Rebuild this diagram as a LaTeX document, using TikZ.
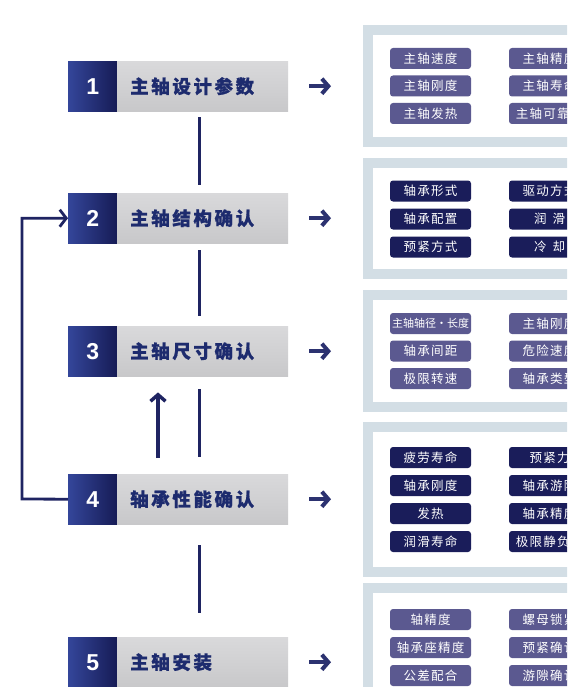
\documentclass[tikz,border=0pt]{standalone}
\usepackage{fontspec}
\setmainfont{Liberation Sans}
\newfontfamily\cjkstep{Noto Sans CJK SC}[LetterSpace=14,BoldFeatures={FakeBold=0.8}]
\newfontfamily\cjkpill{Noto Sans CJK SC}[LetterSpace=10]
\newfontfamily\cjksmall{Noto Sans CJK SC}
\usetikzlibrary{arrows.meta}
\definecolor{numL}{HTML}{34469A}
\definecolor{numR}{HTML}{161B55}
\definecolor{grayT}{HTML}{D9D9DB}
\definecolor{grayB}{HTML}{C8C8CA}
\definecolor{stepTxt}{HTML}{1D2B6E}
\definecolor{connC}{HTML}{1F2462}
\definecolor{panelC}{HTML}{D3DEE5}
\definecolor{pillPC}{HTML}{5B5990}
\definecolor{pillNC}{HTML}{1A1D5A}
\definecolor{arrC}{HTML}{2C3270}
\begin{document}
\begin{tikzpicture}[x=1pt,y=-1pt,
  numbox/.style={anchor=north west,minimum width=49pt,minimum height=50pt,inner sep=0pt,
    left color=numL,right color=numR,text=white,font=\fontsize{23}{23}\selectfont\bfseries},
  stepbox/.style={anchor=north west,minimum height=50pt,text width=145pt,inner xsep=13pt,
    inner ysep=0pt,align=left,top color=grayT,bottom color=grayB,text=stepTxt,
    font=\fontsize{18.5}{18.5}\selectfont\cjkstep\bfseries},
  panelbox/.style={fill=white,draw=panelC,line width=10pt,inner sep=0pt},
  pill/.style={minimum width=81pt,minimum height=21pt,inner sep=0pt,rounded corners=3pt,
    text=white,font=\fontsize{12.5}{12.5}\selectfont\cjkpill},
  pillP/.style={pill,fill=pillPC},
  pillN/.style={pill,fill=pillNC},
  conn/.style={draw=connC,line width=3pt},
  rarrow/.style={draw=arrC,line width=4pt,-{Straight Barb[length=6.5pt,width=15pt]}},
  uparrow/.style={draw=connC,line width=3.5pt,-{Straight Barb[length=6.5pt,width=15pt]}},
]
\useasboundingbox (0,0) rectangle (567,687);
\clip (0,0) rectangle (567,687);
\fill[white] (0,0) rectangle (567,687);

% panels
\node[panelbox,minimum width=227pt,minimum height=112pt] (p1) at (481.5,86) {};
\node[panelbox,minimum width=227pt,minimum height=111pt] (p2) at (481.5,218.5) {};
\node[panelbox,minimum width=227pt,minimum height=112pt] (p3) at (481.5,351) {};
\node[panelbox,minimum width=227pt,minimum height=145pt] (p4) at (481.5,499.5) {};
\node[panelbox,minimum width=227pt,minimum height=200pt] (p5) at (481.5,688) {};

% step boxes
\node[numbox] (n1) at (68,61) {1};
\node[stepbox] (g1) at (117,61) {主轴设计参数};
\node[numbox] (n2) at (68,193) {2};
\node[stepbox] (g2) at (117,193) {主轴结构确认};
\node[numbox] (n3) at (68,326) {3};
\node[stepbox] (g3) at (117,326) {主轴尺寸确认};
\node[numbox] (n4) at (68,474) {4};
\node[stepbox] (g4) at (117,474) {轴承性能确认};
\node[numbox] (n5) at (68,637) {5};
\node[stepbox] (g5) at (117,637) {主轴安装};

% vertical connectors
\draw[conn,shorten <=6pt,shorten >=8pt] ([xshift=-3pt]g1.south) -- ([xshift=-3pt]g2.north);
\draw[conn,shorten <=7pt,shorten >=10pt] ([xshift=-3pt]g2.south) -- ([xshift=-3pt]g3.north);
\draw[conn,shorten <=13pt,shorten >=17pt] ([xshift=-3pt]g3.south) -- ([xshift=-3pt]g4.north);
\draw[conn,shorten <=21pt,shorten >=24pt] ([xshift=-3pt]g4.south) -- ([xshift=-3pt]g5.north);

% up arrow between 4 and 3
\draw[uparrow,shorten <=16pt,shorten >=16pt] ([xshift=41pt]g4.north west) -- ([xshift=41pt]g3.south west);

% feedback loop 4 -> 2
\coordinate (fb) at (22,499);
\draw[draw=connC,line width=2.8pt,-{Straight Barb[length=6.5pt,width=17pt]}]
  (n4.west) -- (fb) |- (n2.west);

% right arrows
\draw[rarrow,shorten <=21pt,shorten >=32pt] (g1.east) -- (g1.east -| p1.west);
\draw[rarrow,shorten <=21pt,shorten >=32pt] (g2.east) -- (g2.east -| p2.west);
\draw[rarrow,shorten <=21pt,shorten >=32pt] (g3.east) -- (g3.east -| p3.west);
\draw[rarrow,shorten <=21pt,shorten >=32pt] (g4.east) -- (g4.east -| p4.west);
\draw[rarrow,shorten <=21pt,shorten >=32pt] (g5.east) -- (g5.east -| p5.west);

% panel 1
\foreach \t [count=\i] in {主轴速度,主轴刚度,主轴发热}
  \node[pillP] (a1l\i) at (430.5,31+27.5*\i) {\t};
\foreach \t [count=\i] in {主轴精度,主轴寿命,主轴可靠性}
  \node[pillP] (a1r\i) at (549.5,31+27.5*\i) {\t};
% panel 2
\foreach \t [count=\i] in {轴承形式,轴承配置,预紧方式}
  \node[pillN] (a2l\i) at (430.5,163+28*\i) {\t};
\node[pillN] (a2r1) at (549.5,191) {驱动方式};
\node[pillN] (a2r2) at (549.5,219) {润\hspace{6pt}滑};
\node[pillN] (a2r3) at (549.5,247) {冷\hspace{6pt}却};
% panel 3
\node[pillP,font=\fontsize{11}{11}\selectfont\cjksmall] (a3l1) at (430.5,323.5) {主轴轴径·长度};
\node[pillP] (a3l2) at (430.5,351) {轴承间距};
\node[pillP] (a3l3) at (430.5,378.5) {极限转速};
\foreach \t [count=\i] in {主轴刚度,危险速度,轴承类型}
  \node[pillP] (a3r\i) at (549.5,296+27.5*\i) {\t};
% panel 4
\foreach \t [count=\i] in {疲劳寿命,轴承刚度,发热,润滑寿命}
  \node[pillN] (a4l\i) at (430.5,429.5+28*\i) {\t};
\foreach \t [count=\i] in {预紧力,轴承游隙,轴承精度,极限静负荷}
  \node[pillN] (a4r\i) at (549.5,429.5+28*\i) {\t};
% panel 5
\foreach \t [count=\i] in {轴精度,轴承座精度,公差配合}
  \node[pillP] (a5l\i) at (430.5,591.5+28*\i) {\t};
\foreach \t [count=\i] in {螺母锁紧,预紧确认,游隙确认}
  \node[pillP] (a5r\i) at (549.5,591.5+28*\i) {\t};
\end{tikzpicture}
\end{document}
